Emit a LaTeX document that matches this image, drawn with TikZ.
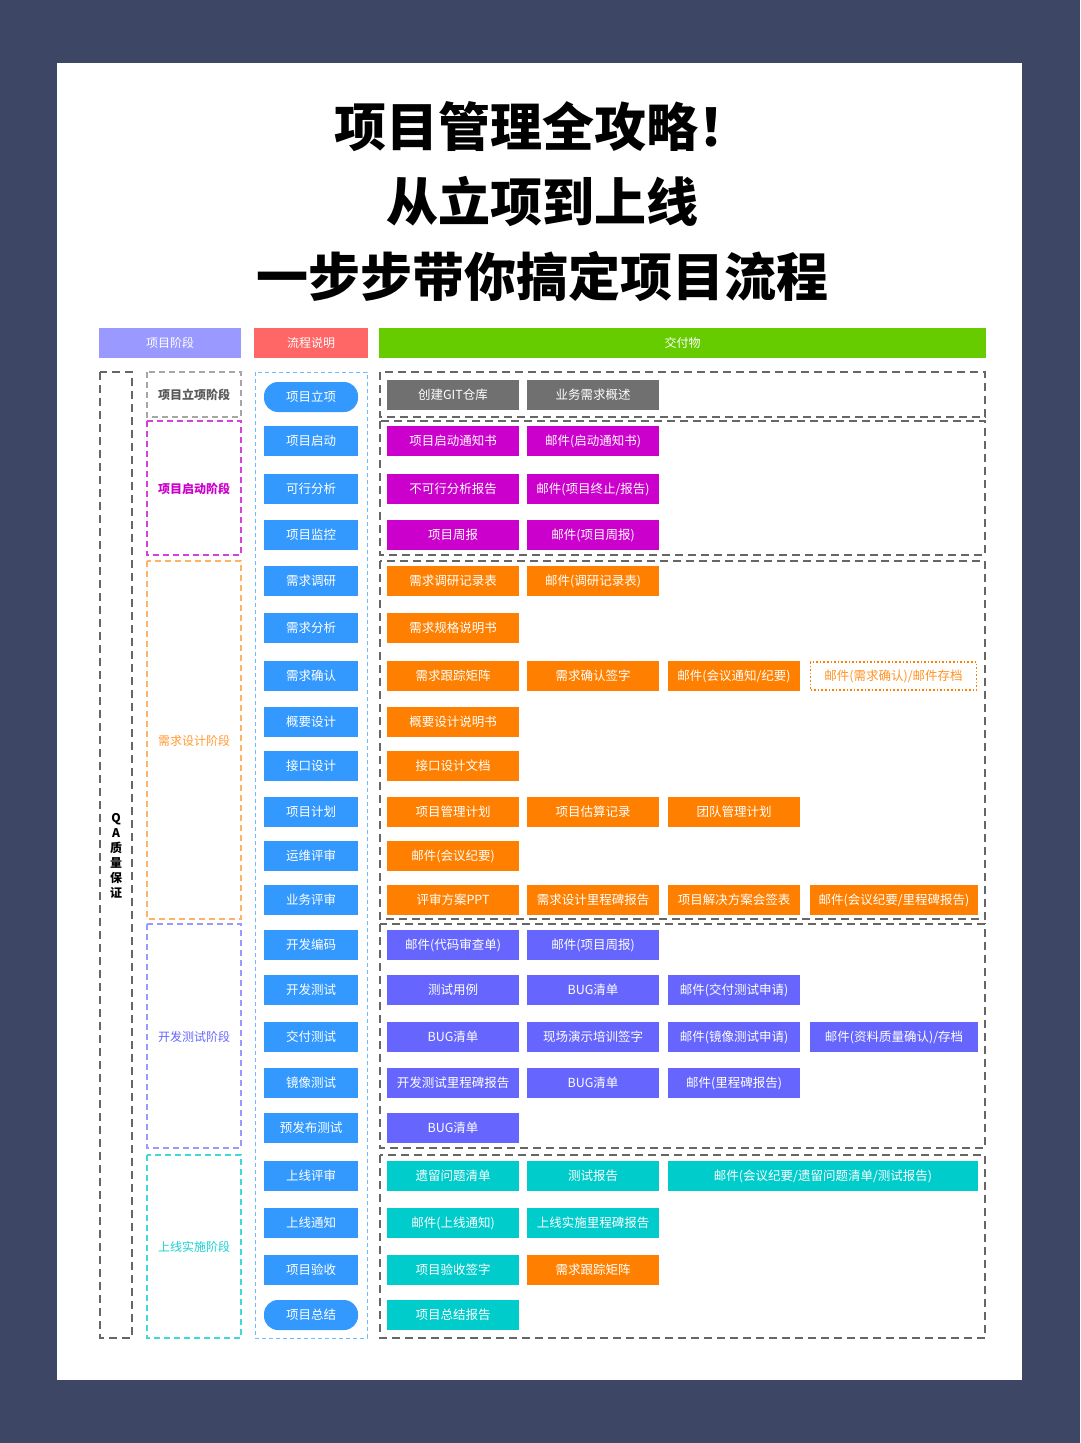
\documentclass[tikz,border=0pt]{standalone}
\usepackage{fontspec}
\setmainfont{Noto Sans CJK SC}
\usepackage{xcolor}
\definecolor{navy}{HTML}{3E4665}
\definecolor{lavender}{HTML}{9999FF}
\definecolor{salmon}{HTML}{FF6666}
\definecolor{leaf}{HTML}{66CC00}
\definecolor{procblue}{HTML}{3399FF}
\definecolor{framegray}{HTML}{666666}
\definecolor{slate}{HTML}{707070}
\definecolor{plum}{HTML}{CC00CC}
\definecolor{tang}{HTML}{FF8000}
\definecolor{iris}{HTML}{6666FF}
\definecolor{teal}{HTML}{00CCCC}
\usepackage{tikz}

\begin{document}
\begin{tikzpicture}[x=1pt,y=-1pt,
  cell/.style={text=white,inner sep=0pt,minimum height=30pt,font=\fontsize{12.5}{13}\selectfont},
  proc/.style={cell,fill=procblue,minimum width=94pt},
  pill/.style={proc,rounded corners=14pt},
  deliv/.style={cell,fill=#1,minimum width=132pt},
  hdr/.style={cell,fill=#1,font=\fontsize{12}{13}\selectfont},
  frame/.style={draw=#1,dash pattern=on 8pt off 5pt,line width=1.4pt},
  phase/.style={draw=#1,dash pattern=on 6pt off 4pt,line width=1.1pt},
  plabel/.style={text=#1,font=\fontsize{12}{13}\selectfont}]
  \useasboundingbox (0,0) rectangle (1080,1443);
  \fill[navy] (0,0) rectangle (1080,1443);
  \fill[white] (57,63) rectangle (1022,1380);
  % titre
  \node[font=\fontsize{52}{52}\selectfont\bfseries] (t1) at (542,127) {项目管理全攻略！};
  \node[font=\fontsize{52}{52}\selectfont\bfseries] (t2) at (542,201) {从立项到上线};
  \node[font=\fontsize{52}{52}\selectfont\bfseries] (t3) at (542,277) {一步步带你搞定项目流程};
  % en-tetes
  \node[hdr=lavender,minimum width=142pt] (h1) at (170,343) {项目阶段};
  \node[hdr=salmon,minimum width=114pt] (h2) at (311,343) {流程说明};
  \node[hdr=leaf,minimum width=607pt] (h3) at (682.5,343) {交付物};
  % colonne QA
  \draw[frame=framegray] (100,372) rectangle (132,1338);
  \node[align=center,font=\fontsize{12}{15}\selectfont\bfseries] (qa) at (116,856) {Q\\A\\质\\量\\保\\证};
  % phases
  \draw[phase=gray!70] (147,372) rectangle (241,417);
  \node[plabel=black!65,font=\fontsize{12}{13}\selectfont\bfseries] (s1) at (194,395) {项目立项阶段};
  \draw[phase=plum!75] (147,421) rectangle (241,555);
  \node[plabel=plum,font=\fontsize{12}{13}\selectfont\bfseries] (s2) at (194,489) {项目启动阶段};
  \draw[phase=tang!60] (147,561) rectangle (241,919);
  \node[plabel=tang!80] (s3) at (194,741) {需求设计阶段};
  \draw[phase=lavender] (147,924) rectangle (241,1148);
  \node[plabel=iris] (s4) at (194,1037) {开发测试阶段};
  \draw[phase=teal!75] (147,1155) rectangle (241,1338);
  \node[plabel=teal!90] (s5) at (194,1247) {上线实施阶段};
  % flux
  \draw[draw=procblue!70,dash pattern=on 4pt off 3pt,line width=1pt] (255,372) rectangle (367,1338);
  \node[pill] (p1) at (311,397) {项目立项};
  \foreach \n/\y/\lab in {2/441/项目启动,3/489/可行分析,4/535/项目监控,5/581/需求调研,
     6/628/需求分析,7/676/需求确认,8/722/概要设计,9/766/接口设计,10/812/项目计划,
     11/856/运维评审,12/900/业务评审,13/945/开发编码,14/990/开发测试,15/1037/交付测试,
     16/1083/镜像测试,17/1128/预发布测试,18/1176/上线评审,19/1223/上线通知,20/1270/项目验收}
     \node[proc] (p\n) at (311,\y) {\lab};
  \node[pill] (p21) at (311,1315) {项目总结};
  % livrables : nom, x, y, style, texte
  \foreach \ya/\yb in {372/417,421/555,561/919,924/1148,1155/1338}
     \draw[frame=framegray] (380,\ya) rectangle (985,\yb);
  \def\dlv#1#2#3#4#5{\node[#4] (#1) at (#2,#3) {#5};}
  \dlv{d1c1}{453}{395}{deliv=slate}{创建GIT仓库}
  \dlv{d1c2}{593}{395}{deliv=slate}{业务需求概述}
  \dlv{d2c1}{453}{441}{deliv=plum}{项目启动通知书}
  \dlv{d2c2}{593}{441}{deliv=plum}{邮件(启动通知书)}
  \dlv{d3c1}{453}{489}{deliv=plum}{不可行分析报告}
  \dlv{d3c2}{593}{489}{deliv=plum}{邮件(项目终止/报告)}
  \dlv{d4c1}{453}{535}{deliv=plum}{项目周报}
  \dlv{d4c2}{593}{535}{deliv=plum}{邮件(项目周报)}
  \dlv{d5c1}{453}{581}{deliv=tang}{需求调研记录表}
  \dlv{d5c2}{593}{581}{deliv=tang}{邮件(调研记录表)}
  \dlv{d6c1}{453}{628}{deliv=tang}{需求规格说明书}
  \dlv{d7c1}{453}{676}{deliv=tang}{需求跟踪矩阵}
  \dlv{d7c2}{593}{676}{deliv=tang}{需求确认签字}
  \dlv{d7c3}{734}{676}{deliv=tang}{邮件(会议通知/纪要)}
  \dlv{d7c4}{893.5}{676}{cell,draw=tang,dotted,line width=1.6pt,text=tang!85,minimum width=166pt,minimum height=28pt}{邮件(需求确认)/邮件存档}
  \dlv{d8c1}{453}{722}{deliv=tang}{概要设计说明书}
  \dlv{d9c1}{453}{766}{deliv=tang}{接口设计文档}
  \dlv{d10c1}{453}{812}{deliv=tang}{项目管理计划}
  \dlv{d10c2}{593}{812}{deliv=tang}{项目估算记录}
  \dlv{d10c3}{734}{812}{deliv=tang}{团队管理计划}
  \dlv{d11c1}{453}{856}{deliv=tang}{邮件(会议纪要)}
  \dlv{d12c1}{453}{900}{deliv=tang}{评审方案PPT}
  \dlv{d12c2}{593}{900}{deliv=tang}{需求设计里程碑报告}
  \dlv{d12c3}{734}{900}{deliv=tang}{项目解决方案会签表}
  \dlv{d12c4}{894}{900}{deliv=tang,minimum width=168pt}{邮件(会议纪要/里程碑报告)}
  \dlv{d13c1}{453}{945}{deliv=iris}{邮件(代码审查单)}
  \dlv{d13c2}{593}{945}{deliv=iris}{邮件(项目周报)}
  \dlv{d14c1}{453}{990}{deliv=iris}{测试用例}
  \dlv{d14c2}{593}{990}{deliv=iris}{BUG清单}
  \dlv{d14c3}{734}{990}{deliv=iris}{邮件(交付测试申请)}
  \dlv{d15c1}{453}{1037}{deliv=iris}{BUG清单}
  \dlv{d15c2}{593}{1037}{deliv=iris}{现场演示培训签字}
  \dlv{d15c3}{734}{1037}{deliv=iris}{邮件(镜像测试申请)}
  \dlv{d15c4}{894}{1037}{deliv=iris,minimum width=168pt}{邮件(资料质量确认)/存档}
  \dlv{d16c1}{453}{1083}{deliv=iris}{开发测试里程碑报告}
  \dlv{d16c2}{593}{1083}{deliv=iris}{BUG清单}
  \dlv{d16c3}{734}{1083}{deliv=iris}{邮件(里程碑报告)}
  \dlv{d17c1}{453}{1128}{deliv=iris}{BUG清单}
  \dlv{d18c1}{453}{1176}{deliv=teal}{遗留问题清单}
  \dlv{d18c2}{593}{1176}{deliv=teal}{测试报告}
  \dlv{d18c3}{823}{1176}{deliv=teal,minimum width=310pt}{邮件(会议纪要/遗留问题清单/测试报告)}
  \dlv{d19c1}{453}{1223}{deliv=teal}{邮件(上线通知)}
  \dlv{d19c2}{593}{1223}{deliv=teal}{上线实施里程碑报告}
  \dlv{d20c1}{453}{1270}{deliv=teal}{项目验收签字}
  \dlv{d20c2}{593}{1270}{deliv=tang}{需求跟踪矩阵}
  \dlv{d21c1}{453}{1315}{deliv=teal}{项目总结报告}
\end{tikzpicture}
\end{document}
